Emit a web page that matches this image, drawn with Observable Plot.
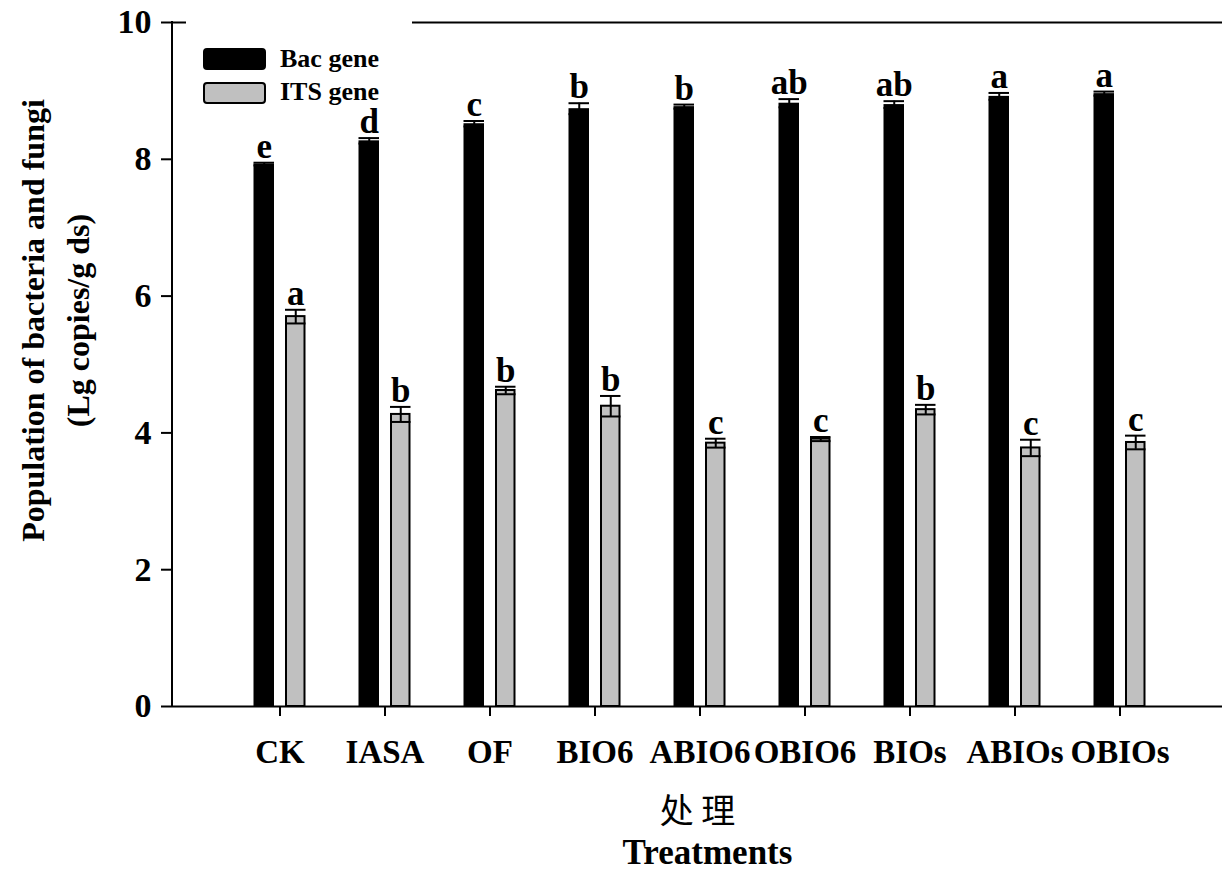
<!DOCTYPE html>
<html><head><meta charset="utf-8">
<script src="https://cdn.jsdelivr.net/npm/d3@7"></script>
<script src="https://cdn.jsdelivr.net/npm/@observablehq/plot@0.6"></script>
<style>
body{margin:0;background:#fff;}
#wrap{position:relative;width:1222px;height:871px;}
#legend{position:absolute;left:0;top:0;}
</style></head><body><div id="wrap"></div>
<script>
const categories = ["CK","IASA","OF","BIO6","ABIO6","OBIO6","BIOs","ABIOs","OBIOs"];
const bacMean = [7.93, 8.27, 8.52, 8.74, 8.77, 8.82, 8.80, 8.92, 8.96];
const bacErr  = [0.02, 0.04, 0.04, 0.08, 0.03, 0.06, 0.05, 0.05, 0.03];
const bacLetters = ["e","d","c","b","b","ab","ab","a","a"];
const itsMean = [5.70, 4.27, 4.62, 4.39, 3.85, 3.91, 4.34, 3.78, 3.86];
const itsErr  = [0.10, 0.11, 0.055, 0.15, 0.065, 0.03, 0.07, 0.12, 0.10];
const itsLetters = ["a","b","b","b","c","c","b","c","c"];
const yTicks = [0,2,4,6,8,10];
const seriesNames = ["Bac gene","ITS gene"];
const yTitle1 = "Population of bacteria and fungi";
const yTitle2 = "(Lg copies/g ds)";
const xTitleCN = "处 理";
const xTitleEN = "Treatments";

const bac = categories.map((c,i)=>({cat:c, value:bacMean[i], err:bacErr[i], letter:bacLetters[i]}));
const its = categories.map((c,i)=>({cat:c, value:itsMean[i], err:itsErr[i], letter:itsLetters[i]}));

const serif = '"Liberation Serif","Times New Roman",serif';
const off = 15.75, ins = 42.25;
const hi = d => d.value + d.err, lo = d => d.value - d.err;

function errMarks(data, dx){
  return [
    Plot.ruleX(data,{x:"cat", y1:lo, y2:hi, dx, stroke:"black", strokeWidth:2}),
    Plot.tickY(data,{x:"cat", y:hi, dx, insetLeft:ins, insetRight:ins, stroke:"black", strokeWidth:2}),
    Plot.tickY(data,{x:"cat", y:lo, dx, insetLeft:ins, insetRight:ins, stroke:"black", strokeWidth:2}),
    Plot.text(data,{x:"cat", y:hi, text:"letter", dx, dy:-5, lineAnchor:"bottom", fontSize:35, fontWeight:"bold", fill:"black"})
  ];
}

const plot = Plot.plot({
  width:1222, height:871, marginLeft:172, marginRight:0, marginTop:22, marginBottom:165,
  style:{fontFamily:serif, background:"#fff", color:"black"},
  x:{domain:categories, paddingInner:0, paddingOuter:0.4765, align:0.526, axis:null},
  y:{domain:[0,10], axis:null},
  marks:[
    Plot.ruleY([0,10],{stroke:"black", strokeWidth:2}),
    Plot.barY(bac,{x:"cat", y:"value", fill:"black", dx:-off, insetLeft:ins, insetRight:ins}),
    Plot.barY(its,{x:"cat", y:"value", fill:"#c0c0c0", stroke:"black", strokeWidth:2, dx:off, insetLeft:ins+1, insetRight:ins+1}),
    ...errMarks(bac, -off),
    ...errMarks(its, off),
    Plot.axisX({tickSize:10, tickPadding:23, fontSize:33, fontWeight:"bold", label:null, strokeWidth:2}),
    Plot.axisY({ticks:yTicks, tickSize:11, tickPadding:10, fontSize:34, fontWeight:"bold", label:null, strokeWidth:2, tickFormat:d=>String(d)}),
    Plot.text([yTitle1],{frameAnchor:"left", textAnchor:"middle", rotate:-90, dx:-139, dy:-44, fontSize:32, fontWeight:"bold"}),
    Plot.text([yTitle2],{frameAnchor:"left", textAnchor:"middle", rotate:-90, dx:-94, dy:-44, fontSize:32, fontWeight:"bold"}),
    Plot.text([xTitleCN],{frameAnchor:"bottom", dy:116, fontSize:34, fontWeight:"normal", fontFamily:'"Noto Sans CJK SC",sans-serif', style:"word-spacing:8px"}),
    Plot.text([xTitleEN],{frameAnchor:"bottom", dx:10, dy:157, fontSize:35, fontWeight:"bold"})
  ]
});
document.getElementById("wrap").appendChild(plot);

// left axis line drawn from the plot's own scales
const xs = plot.scale("x"), ys = plot.scale("y");
d3.select(plot).append("line")
  .attr("x1", xs.range[0]).attr("x2", xs.range[0])
  .attr("y1", ys.apply(0)+1).attr("y2", ys.apply(10)-1)
  .attr("stroke","black").attr("stroke-width",2);

// legend overlay (white box hides the top line behind it, as in the original)
const lg = d3.select("#wrap").append("svg").attr("id","legend")
  .attr("width",1222).attr("height",130)
  .style("font-family", serif);
lg.append("rect").attr("x",186).attr("y",8).attr("width",226).attr("height",98).attr("fill","#fff");
const sw = [{fill:"black"},{fill:"#c0c0c0"}];
seriesNames.forEach((name,i)=>{
  lg.append("rect").attr("x",204).attr("y",49+i*34).attr("width",61).attr("height",20)
    .attr("rx",3).attr("fill",sw[i].fill).attr("stroke","black").attr("stroke-width",2);
  lg.append("text").attr("x",280).attr("y",67+i*33).attr("font-size",26).attr("font-weight","bold").text(name);
});
</script></body></html>
